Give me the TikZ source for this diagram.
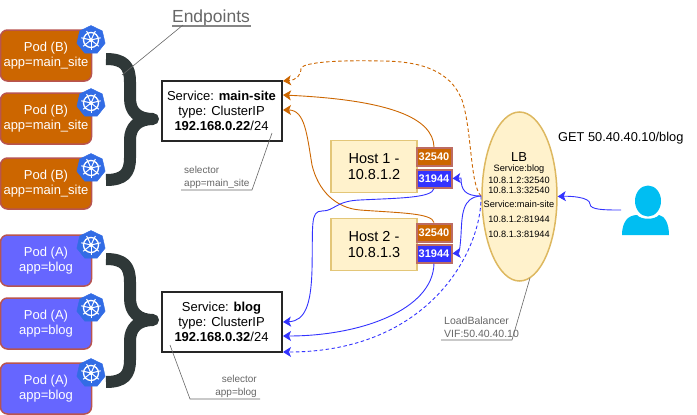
\documentclass[tikz,border=0pt]{standalone}
\usepackage{fontspec}
\setmainfont{Liberation Sans}
\usetikzlibrary{arrows.meta,shapes.geometric,calc}
\definecolor{podB}{HTML}{CC6600}
\definecolor{podA}{HTML}{6666FF}
\definecolor{podEdge}{HTML}{B85450}
\definecolor{kube}{HTML}{326CE5}
\definecolor{brace}{HTML}{2F3838}
\definecolor{hostFill}{HTML}{FFF2CC}
\definecolor{hostEdge}{HTML}{E3C678}
\definecolor{lbEdge}{HTML}{DDB860}
\definecolor{portB}{HTML}{3333FF}
\definecolor{portEdge}{HTML}{BC6C64}
\definecolor{wireO}{HTML}{CC6600}
\definecolor{wireB}{HTML}{3333FF}
\definecolor{note}{HTML}{666666}
\definecolor{person}{HTML}{00BEF2}
\tikzset{
  pod/.style={draw=podEdge,line width=1.5pt,rounded corners=7pt,minimum width=91pt,minimum height=51pt,inner sep=0pt,align=center,text=white,font=\fontsize{13}{15.5}\selectfont},
  podb/.style={pod,fill=podB},
  poda/.style={pod,fill=podA},
  kubeicon/.style={regular polygon,regular polygon sides=7,fill=kube,draw=kube,minimum size=29pt,inner sep=0pt},
  svc/.style={draw=black!85,fill=white,line width=2pt,minimum width=120pt,minimum height=60pt,inner sep=0pt,align=center,font=\fontsize{13}{15}\selectfont},
  hostbox/.style={draw=hostEdge,fill=hostFill,line width=1.6pt,minimum width=86pt,minimum height=52pt,inner sep=0pt,align=center,font=\fontsize{14.5}{16.5}\selectfont},
  port/.style={draw=portEdge,line width=2pt,minimum width=35pt,minimum height=18pt,inner sep=0pt,text=white,font=\bfseries\fontsize{11}{13}\selectfont},
  notetext/.style={text=note,align=left,inner sep=0pt,font=\fontsize{10}{12.5}\selectfont},
  leader/.style={draw=note,line width=0.6pt},
  bracepath/.style={draw=brace,line width=12pt,line cap=butt,line join=round},
  wireo/.style={draw=wireO,line width=0.9pt,-{Stealth[length=8pt,width=10pt,inset=2pt]}},
  wireb/.style={draw=wireB,line width=0.9pt,-{Stealth[length=8pt,width=10pt,inset=2pt]}},
  dashy/.style={dash pattern=on 3.5pt off 2.5pt},
  lbtext/.style={font=\fontsize{9.2}{10}\selectfont,inner sep=0pt},
}
\newcommand{\kubewheel}[1]{%
  \draw[white,line width=1.3pt] (#1) circle (7.5pt);
  \fill[white] (#1) circle (2pt);
  \foreach \a in {90,141.4,192.8,244.3,295.7,347.1,38.6}
    \draw[white,line width=1pt] (#1) -- ++(\a:-10pt);
}
\begin{document}
\begin{tikzpicture}[x=1pt,y=-1pt]
\useasboundingbox (0,0) rectangle (697,415);
\draw[bracepath] (106,59) .. controls (124,59) and (130,66) .. (130,82) -- (130,98) .. controls (130,112) and (138,119) .. (153,119) .. controls (138,119) and (130,127) .. (130,140) -- (130,158) .. controls (130,173) and (124,180) .. (106,180);
\draw[bracepath] (106,259) .. controls (124,259) and (130,266) .. (130,282) -- (130,298) .. controls (130,312) and (138,320) .. (153,320) .. controls (138,320) and (130,328) .. (130,341) -- (130,360) .. controls (130,375) and (124,382) .. (106,382);
% pods
\node[podb] (b1) at (46,55.5) {Pod (B)\\app=main\_site};
\node[podb] (b2) at (46,118.5) {Pod (B)\\app=main\_site};
\node[podb] (b3) at (46,183.5) {Pod (B)\\app=main\_site};
\node[poda] (a1) at (46,260.5) {Pod (A)\\app=blog};
\node[poda] (a2) at (46,323.5) {Pod (A)\\app=blog};
\node[poda] (a3) at (46,388.5) {Pod (A)\\app=blog};
\foreach \n/\y in {kb1/40,kb2/103,kb3/168,ka1/245,ka2/308,ka3/373}{
  \node[kubeicon] (\n) at (91,\y) {};
  \kubewheel{\n.center}
}
% services
\node[svc] (main) at (221.5,110.5) {Service: \textbf{main-site}\\type: ClusterIP\\\textbf{192.168.0.22}/24};
\node[svc] (blog) at (221.5,321.5) {Service: \textbf{blog}\\type: ClusterIP\\\textbf{192.168.0.32}/24};
% hosts
\node[hostbox] (h1) at (374,166.5) {Host 1 -\\10.8.1.2};
\node[hostbox] (h2) at (374,244.5) {Host 2 -\\10.8.1.3};
\node[port,fill=podB] (p1a) at (434,157) {32540};
\node[port,fill=portB] (p1b) at (434,178.5) {31944};
\node[port,fill=podB] (p2a) at (434,232.5) {32540};
\node[port,fill=portB] (p2b) at (434,253.5) {31944};
% load balancer
\node[ellipse,draw=lbEdge,fill=hostFill,line width=1.5pt,minimum width=75pt,minimum height=169pt,inner sep=0pt] (lb) at (519.5,196.5) {};
\node[font=\fontsize{13}{15}\selectfont,inner sep=0pt] (lbt) at (519,157.5) {LB};
\node[lbtext] (lb1) at (519,169.5) {Service:blog};
\node[lbtext] (lb2) at (519,180) {10.8.1.2:32540};
\node[lbtext] (lb3) at (519,190) {10.8.1.3:32540};
\node[lbtext] (lb4) at (519,204) {Service:main-site};
\node[lbtext] (lb5) at (519,219) {10.8.1.2:81944};
\node[lbtext] (lb6) at (519,234) {10.8.1.3:81944};
% user
\fill[person] (622,235) .. controls (622,222) and (628,215) .. (637,215) .. controls (641,220) and (655,220) .. (659,215) .. controls (665,216) and (669,224) .. (669,235) -- cycle;
\node[ellipse,fill=person,minimum width=26pt,minimum height=31pt,inner sep=0pt] (user) at (648,201) {};
\coordinate (userp) at (621,210);
% texts
\node[text=note,font=\fontsize{17.5}{20}\selectfont,inner sep=0pt] (ep) at (211,18) {Endpoints};
\draw[note!80,line width=2pt] (172,26) -- (251,26);
\node[font=\fontsize{12.8}{15}\selectfont,inner sep=0pt,anchor=west] (get) at (558,138.5) {GET 50.40.40.10/blog};
\node[notetext,anchor=west] (s1) at (184,177.5) {selector\\app=main\_site};
\node[notetext,anchor=east,align=right] (s2) at (257,386.5) {selector\\app=blog};
\node[text=note,align=left,inner sep=0pt,anchor=west,font=\fontsize{10.5}{13}\selectfont] (vip) at (444,327.5) {LoadBalancer\\VIF:50.40.40.10};
% leaders
\coordinate (e0) at (122,75); \coordinate (e1) at (183,25);
\draw[leader] (e0) -- (e1);
\coordinate (s1a) at (272,133); \coordinate (s1b) at (252,190); \coordinate (s1c) at (181,190);
\draw[leader] (s1a) -- (s1b) -- (s1c);
\coordinate (s2a) at (170,345); \coordinate (s2b) at (190,399); \coordinate (s2c) at (260,399);
\draw[leader] (s2a) -- (s2b) -- (s2c);
\coordinate (va) at (530,278); \coordinate (vb) at (512,340); \coordinate (vc) at (441,340);
\draw[leader] (va) -- (vb) -- (vc);
% connectors
\coordinate (lbw) at (481,196);
\coordinate (mt) at (283,81); \coordinate (mm) at (283,95); \coordinate (mb) at (283,110);
\coordinate (bt) at (283,322); \coordinate (bm) at (283,336); \coordinate (bb) at (283,352);
\draw[wireo,dashy] (lbw) .. controls (470,185) and (472,130) .. (462,100) .. controls (450,70) and (420,61) .. (380,61) .. controls (340,60) and (305,62) .. (301,68) .. controls (301,76) and (296,80) .. (mt);
\draw[wireo] (p1a.north) .. controls (433,118) and (390,100) .. (mm);
\draw[wireo] (p2a.north) .. controls (432,213) and (400,213) .. (360,210) .. controls (335,208) and (318,190) .. (312,165) .. controls (307,135) and (305,110) .. (mb);
\draw[wireb] (p1b.south) .. controls (432,198) and (400,198) .. (360,200) .. controls (335,201) and (335,211) .. (322,211) .. controls (310,211) and (313,225) .. (312,270) .. controls (311,305) and (305,321) .. (bt);
\draw[wireb] (p2b.south) .. controls (433,310) and (360,336) .. (bm);
\draw[wireb,dashy] (lbw) .. controls (482,250) and (430,352) .. (bb);
\draw[wireb] (lbw) .. controls (465,196) and (461,190) .. (461,178) -- (p1b.east);
\draw[wireb] (lbw) .. controls (462,197) and (462,215) .. (461,235) .. controls (460,250) and (459,253) .. (p2b.east);
\draw[wireb] (userp) .. controls (605,210) and (590,210) .. (590,204) .. controls (590,197) and (570,196) .. (lb.east);
\end{tikzpicture}
\end{document}
